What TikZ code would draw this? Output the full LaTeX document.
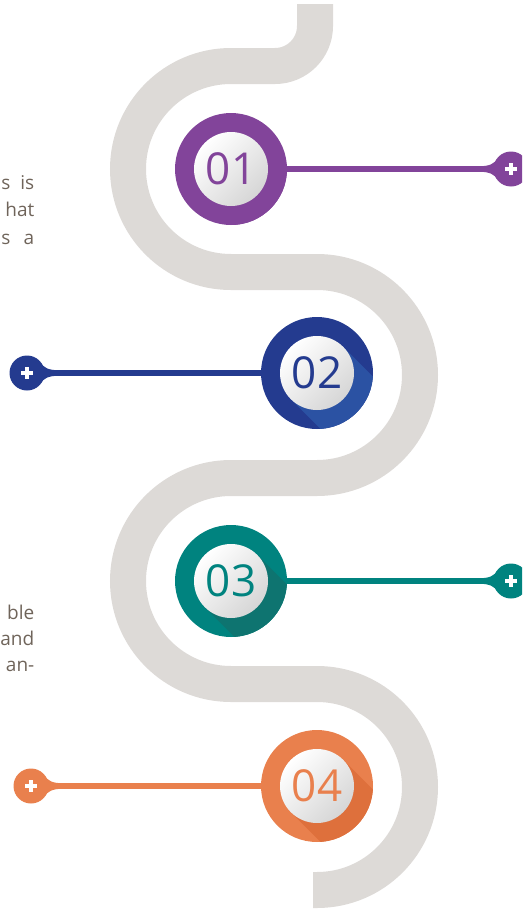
\documentclass[tikz,border=0pt]{standalone}
\usepackage{fontspec}
\setmainfont{Open Sans}
\definecolor{bandgray}{HTML}{DDDAD7}
\definecolor{cpurple}{HTML}{82449A}
\definecolor{cblue}{HTML}{243B8F}
\definecolor{cblueS}{HTML}{2B52A3}
\definecolor{cteal}{HTML}{00837F}
\definecolor{ctealS}{HTML}{0E7470}
\definecolor{corange}{HTML}{E9804D}
\definecolor{corangeS}{HTML}{DE703C}
\definecolor{ctext}{HTML}{6F645A}
\definecolor{innergray}{HTML}{D6D6D6}
\tikzset{
  band/.style={draw=bandgray, line width=36pt},
  ringnode/.style={circle, inner sep=0pt, minimum size=112pt, fill=#1},
  innernode/.style={circle, inner sep=0pt, minimum size=74pt, top color=white, bottom color=innergray, shading angle=45, text=#1, font=\fontsize{44}{44}\selectfont},
  connector/.style={draw=#1, line width=5.5pt},
  paratext/.style={inner sep=0pt, anchor=base east, text=ctext, font=\fontsize{19}{19}\selectfont},
}
\newcommand\mkstage[6]{% name, x, y, ring colour, shadow colour, label
  \node[ringnode=#4] (#1) at (#2,#3) {};
  \begin{scope}
    \clip (#2,#3) circle (56);
    \fill[#5] ($(#2,#3)+(26.2,-26.2)$) -- ++(120,120) -- ++(-52.4,52.4) -- ($(#2,#3)+(-26.2,26.2)$) -- cycle;
  \end{scope}
  \node[innernode=#4] (#1in) at (#2,#3) {#6};
}
\newcommand\mkpin[5]{% name, x, y, direction, colour
  \begin{scope}[shift={(#2,#3)}, xscale=#4]
    \fill[#5] (-32,-2.75) .. controls (-20,-2.75) and (-17,-6) .. (-13.9,-9.75) -- (-13.9,9.75) .. controls (-17,6) and (-20,2.75) .. (-32,2.75) -- cycle;
    \fill[#5] (0,0) circle (17.5);
    \draw[white, line width=3.8pt] (-5.8,0) -- (5.8,0) (0,-5.8) -- (0,5.8);
  \end{scope}
}
\usetikzlibrary{calc}
\begin{document}
\begin{tikzpicture}[x=1pt,y=-1pt]
\useasboundingbox (0,0) rectangle (522,910);
\clip (0,0) rectangle (522,910);
% winding band
\draw[band] (315,4) -- (315,26) arc[start angle=0,end angle=90,radius=40]
  -- (231,66) arc[start angle=270,end angle=90,radius=103]
  -- (317,272) arc[start angle=-90,end angle=90,radius=103]
  -- (231,478) arc[start angle=270,end angle=90,radius=103]
  -- (317,684) arc[start angle=-90,end angle=90,radius=103]
  -- (313,890);
% stages
\mkstage{s1}{231}{169}{cpurple}{cpurple}{01}
\mkstage{s2}{317}{373}{cblue}{cblueS}{02}
\mkstage{s3}{231}{581}{cteal}{ctealS}{03}
\mkstage{s4}{317}{786}{corange}{corangeS}{04}
% pin coordinates
\coordinate (p1) at (511,169);
\coordinate (p2) at (27,373);
\coordinate (p3) at (511,581);
\coordinate (p4) at (31,786);
% connectors
\draw[connector=cpurple] (s1) -- (p1);
\draw[connector=cblue] (s2) -- (p2);
\draw[connector=cteal] (s3) -- (p3);
\draw[connector=corange] (s4) -- (p4);
% pins
\mkpin{p1}{511}{169}{1}{cpurple}
\mkpin{p2}{27}{373}{-1}{cblue}
\mkpin{p3}{511}{581}{1}{cteal}
\mkpin{p4}{31}{786}{-1}{corange}
% paragraph fragments
\node[paratext] (t1) at (34.5,189) {\makebox[33pt][s]{s is}};
\node[paratext] (t2) at (34.5,216.5) {hat};
\node[paratext] (t3) at (34.5,244) {\makebox[33pt][s]{s a}};
\node[paratext] (t4) at (34.5,619) {ble};
\node[paratext] (t5) at (34.5,645) {and};
\node[paratext] (t6) at (34.5,671) {an-};
\end{tikzpicture}
\end{document}
